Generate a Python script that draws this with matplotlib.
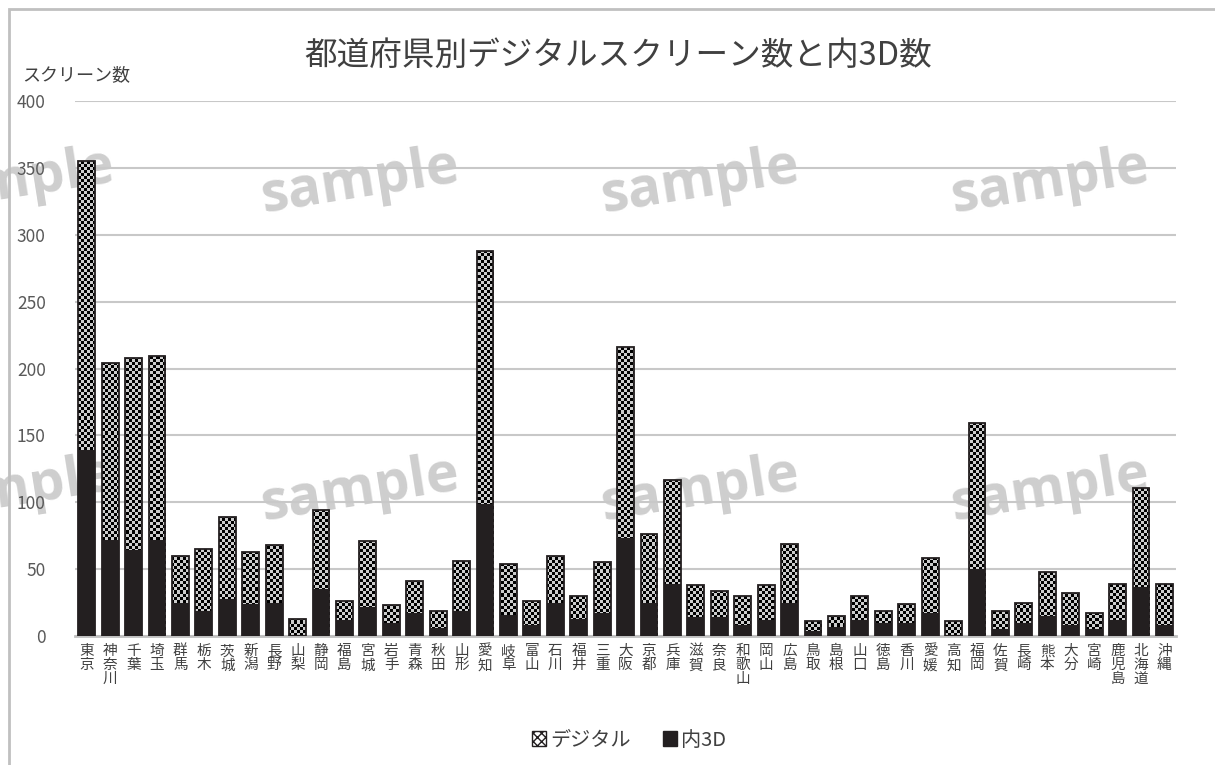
import numpy as np
import matplotlib
matplotlib.use("Agg")
import matplotlib.pyplot as plt
from matplotlib.patches import Patch, Rectangle

plt.rcParams['font.family'] = ['Noto Sans CJK JP', 'DejaVu Sans']

# prefecture data: digital screens and how many of those are 3D
prefectures = ["東京", "神奈川", "千葉", "埼玉", "群馬", "栃木", "茨城", "新潟", "長野", "山梨",
               "静岡", "福島", "宮城", "岩手", "青森", "秋田", "山形", "愛知", "岐阜", "富山",
               "石川", "福井", "三重", "大阪", "京都", "兵庫", "滋賀", "奈良", "和歌山", "岡山",
               "広島", "鳥取", "島根", "山口", "徳島", "香川", "愛媛", "高知", "福岡", "佐賀",
               "長崎", "熊本", "大分", "宮崎", "鹿児島", "北海道", "沖縄"]
digital = [355, 204, 208, 209, 60, 65, 89, 63, 68, 13,
           94, 26, 71, 23, 41, 19, 56, 288, 54, 26,
           60, 30, 55, 216, 76, 117, 38, 34, 30, 38,
           69, 11, 15, 30, 19, 24, 58, 11, 159, 19,
           25, 48, 32, 17, 39, 111, 39]
screens_3d = [139, 72, 64, 72, 25, 19, 28, 24, 25, 1,
              35, 12, 22, 10, 17, 6, 19, 99, 16, 8,
              25, 13, 17, 73, 25, 39, 14, 14, 8, 12,
              25, 4, 7, 12, 10, 10, 17, 1, 50, 5,
              10, 15, 8, 5, 12, 37, 8]
y_ticks = [0, 50, 100, 150, 200, 250, 300, 350, 400]

fig = plt.figure(figsize=(12.15, 7.65), dpi=100)
ax = fig.add_axes([0.0617, 0.1686, 0.9063, 0.6994])
ax.patch.set_alpha(0)

x = np.arange(len(prefectures))
width = 0.72
dark = "#231f20"

# digital bars, filled with a checker texture
bars = ax.bar(x, digital, width=width, color="white", edgecolor="none", zorder=2)
rows, cols = 178, 367
checker = np.indices((rows, cols)).sum(axis=0) % 2
for b in bars:
    im = ax.imshow(checker, extent=(-0.5, len(x) - 0.5, 0, 400), aspect="auto",
                   interpolation="nearest", cmap="gray", vmin=0, vmax=1.25, zorder=2.5)
    im.set_clip_path(b)

# 3D share drawn in front
ax.bar(x, screens_3d, width=width, color=dark, edgecolor="none", zorder=3)
ax.bar(x, digital, width=width, fill=False, edgecolor=dark, linewidth=1.3, zorder=4)

ax.set_xlim(-0.5, len(x) - 0.5)
ax.set_ylim(0, 400)
ax.set_yticks(y_ticks)
ax.set_yticklabels([str(v) for v in y_ticks], fontsize=12.5, color="#595959")
ax.tick_params(axis="y", length=0, pad=21)
ax.set_xticks(x)
ax.set_xticklabels(["\n".join(p) for p in prefectures], fontsize=10.5, color="#404040",
                   linespacing=1.0, va="top")
ax.tick_params(axis="x", length=0, pad=6)
ax.grid(axis="y", color="#c8c8c8", linewidth=1.5, zorder=0)
ax.set_axisbelow(True)
for s in ["top", "right", "left"]:
    ax.spines[s].set_visible(False)
ax.spines["bottom"].set_color("#c0c0c0")
ax.spines["bottom"].set_linewidth(2)

fig.text(0.509, 1 - 56 / 765, "都道府県別デジタルスクリーン数と内3D数", ha="center", va="center",
         fontsize=23.5, color="#404040")
fig.text(22 / 1215, 1 - 75 / 765, "スクリーン数", ha="left", va="center",
         fontsize=13, color="#404040")

handles = [Patch(facecolor="white", edgecolor=dark, hatch="xxxx", linewidth=1),
           Patch(facecolor=dark, edgecolor=dark)]
fig.legend(handles, ["デジタル", "内3D"], loc="center", bbox_to_anchor=(0.518, 1 - 740 / 765),
           ncol=2, frameon=False, fontsize=14.5, handlelength=0.7, handleheight=0.7,
           handletextpad=0.2, columnspacing=1.6, labelcolor="#404040")

# "sample" watermark, kept behind the chart
for cx in [15, 360, 700, 1050]:
    for cy in [182, 490]:
        fig.text(cx / 1215, 1 - cy / 765, "sample", ha="center", va="center", fontsize=40,
                 fontweight="bold", family="Open Sans", color="#c2c2c2", alpha=0.8,
                 rotation=9, zorder=-1)

# outer chart frame
fig.patches.append(Rectangle((9 / 1215, -0.2), 1.2, 1.2 - 9 / 765,
                             transform=fig.transFigure, fill=False,
                             edgecolor="#c0c0c0", linewidth=2))

fig.savefig("out.png", dpi=100)
